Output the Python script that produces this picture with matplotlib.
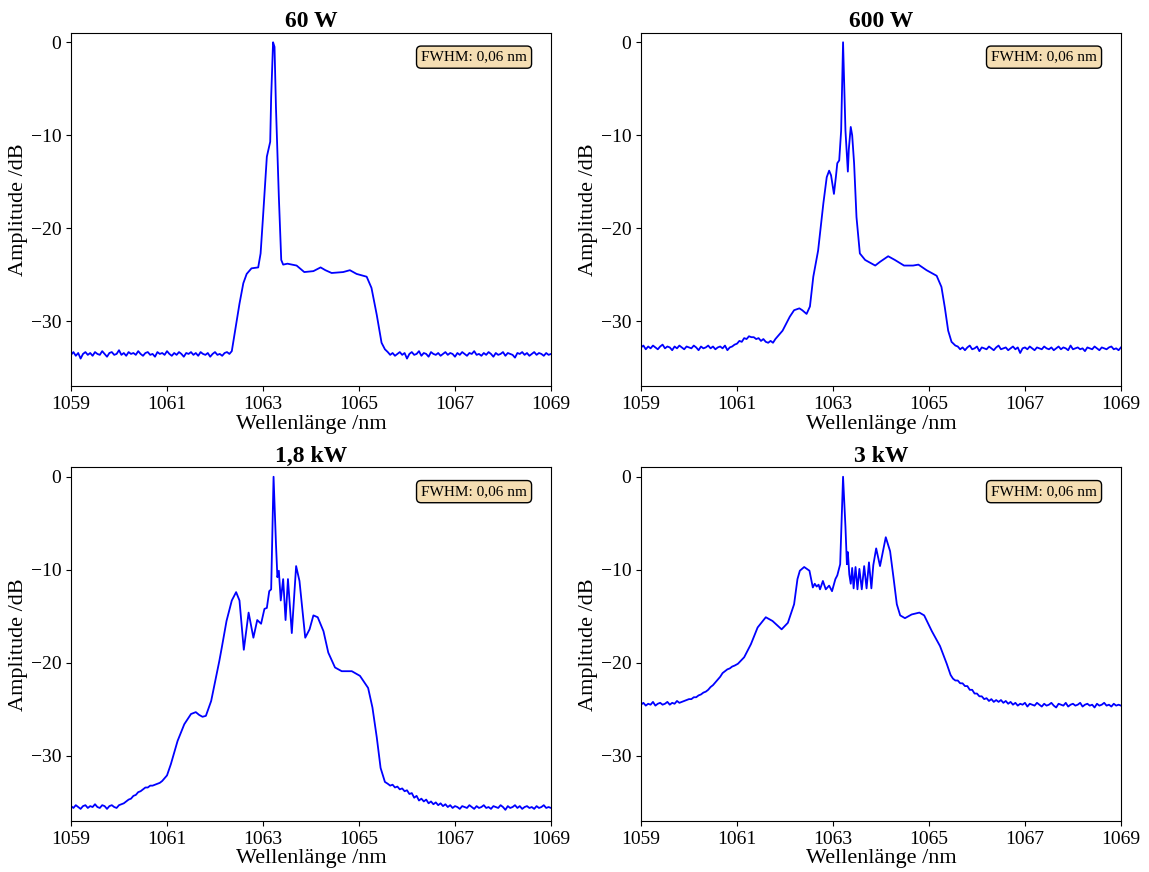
import numpy as np
import matplotlib
matplotlib.use('Agg')
import matplotlib.pyplot as plt

plt.rcParams['font.family'] = ['Liberation Serif', 'DejaVu Serif']

titles = ['60 W', '600 W', '1,8 kW', '3 kW']
fwhm_text = 'FWHM: 0,06 nm'
x_ticks = [1059, 1061, 1063, 1065, 1067, 1069]
y_ticks = [0, -10, -20, -30]

# ---- 60 W ----
floor_60w_l_span = (1059.0, 1062.30)
floor_60w_l = [-33.6, -33.3, -33.7, -33.4, -34.0, -33.5, -33.3, -33.6, -33.4, -33.7,
               -33.3, -33.5, -33.6, -33.2, -33.5, -33.8, -33.4, -33.3, -33.6, -33.5,
               -33.1, -33.6, -33.4, -33.7, -33.3, -33.5, -33.4, -33.6, -33.2, -33.5,
               -33.7, -33.4, -33.3, -33.6, -33.5, -33.8, -33.3, -33.5, -33.4, -33.6,
               -33.2, -33.5, -33.7, -33.4, -33.6, -33.3, -33.5, -33.8, -33.4, -33.5,
               -33.3, -33.6, -33.4, -33.7, -33.3, -33.5, -33.6, -33.4, -33.8, -33.5,
               -33.3, -33.6, -33.5, -33.7, -33.4, -33.3, -33.5]
wl_60w = [1062.35, 1062.42, 1062.51, 1062.59, 1062.66, 1062.76, 1062.90, 1062.95, 1063.00,
          1063.08, 1063.15, 1063.17, 1063.21, 1063.24, 1063.27, 1063.33, 1063.38, 1063.42,
          1063.51, 1063.70, 1063.86, 1064.05, 1064.20, 1064.30, 1064.43, 1064.67, 1064.81,
          1064.95, 1065.16, 1065.26, 1065.37, 1065.47, 1065.54]
db_60w = [-33.2, -31.0, -28.1, -25.9, -24.9, -24.3, -24.2, -22.7, -18.8,
          -12.3, -10.7, -5.9, 0.0, -0.5, -7.0, -16.6, -23.4, -23.9,
          -23.8, -24.0, -24.7, -24.6, -24.2, -24.5, -24.8, -24.7, -24.5,
          -24.9, -25.2, -26.4, -29.3, -32.3, -33.0]
floor_60w_r_span = (1065.60, 1069.0)
floor_60w_r = [-33.3, -33.6, -33.4, -33.7, -33.5, -33.3, -33.6, -33.4, -34.0, -33.5,
               -33.3, -33.6, -33.5, -33.2, -33.7, -33.4, -33.5, -33.8, -33.3, -33.5,
               -33.6, -33.4, -33.7, -33.5, -33.3, -33.6, -33.4, -33.5, -33.8, -33.4,
               -33.6, -33.3, -33.5, -33.7, -33.4, -33.5, -33.2, -33.6, -33.5, -33.7,
               -33.4, -33.6, -33.3, -33.5, -33.8, -33.4, -33.6, -33.5, -33.3, -33.7,
               -33.4, -33.5, -33.6, -33.9, -33.4, -33.5, -33.3, -33.6, -33.4, -33.7,
               -33.5, -33.3, -33.6, -33.4, -33.5, -33.7, -33.4, -33.6, -33.5]

# ---- 600 W ----
floor_600w_l_span = (1059.0, 1061.85)
floor_600w_l = [-32.8, -32.6, -33.0, -32.7, -32.9, -32.6, -32.8, -33.0, -32.7, -32.5,
                -32.9, -32.7, -32.8, -33.1, -32.7, -32.9, -32.6, -32.8, -33.0, -32.7,
                -32.8, -32.9, -32.6, -32.8, -33.1, -32.7, -32.9, -32.8, -32.6, -32.9,
                -32.7, -33.0, -32.8, -32.7, -32.9, -32.6, -33.1, -32.8, -32.7, -32.5,
                -32.4, -32.1, -32.2, -31.8, -31.9, -31.6, -31.7, -31.7, -31.9, -31.8,
                -32.1, -31.9, -32.2, -32.3, -32.1, -32.3, -31.9, -31.6]
wl_600w = [1061.95, 1062.02, 1062.10, 1062.19, 1062.30, 1062.36, 1062.45, 1062.52, 1062.59,
           1062.69, 1062.80, 1062.87, 1062.92, 1062.96, 1063.02, 1063.06, 1063.09, 1063.13,
           1063.17, 1063.21, 1063.26, 1063.31, 1063.33, 1063.37, 1063.40, 1063.44, 1063.49,
           1063.56, 1063.67, 1063.88, 1063.98, 1064.15, 1064.29, 1064.48, 1064.67, 1064.78,
           1064.95, 1065.16, 1065.26, 1065.33, 1065.40, 1065.47, 1065.55]
db_600w = [-31.0, -30.3, -29.5, -28.8, -28.6, -28.8, -29.2, -28.4, -25.2,
           -22.4, -17.3, -14.5, -13.8, -14.3, -16.3, -14.5, -13.0, -12.7,
           -9.5, 0.0, -9.5, -13.9, -11.5, -9.1, -10.0, -13.0, -18.8,
           -22.7, -23.4, -24.0, -23.6, -23.0, -23.4, -24.0, -24.0, -23.9,
           -24.5, -25.1, -26.3, -28.5, -31.0, -32.2, -32.6]
floor_600w_r_span = (1065.60, 1069.0)
floor_600w_r = [-32.7, -33.0, -32.8, -33.1, -32.8, -32.6, -33.0, -32.9, -32.7, -33.2,
                -32.8, -32.9, -33.0, -32.7, -32.9, -33.1, -32.8, -32.6, -33.0, -32.9,
                -32.8, -33.1, -32.9, -32.7, -33.0, -32.8, -33.4, -32.9, -32.8, -33.0,
                -32.7, -32.9, -33.1, -32.8, -32.9, -33.0, -32.7, -32.9, -33.0, -32.8,
                -33.1, -32.9, -32.7, -33.0, -32.8, -32.9, -33.1, -32.6, -33.0, -32.9,
                -32.8, -33.0, -32.9, -33.2, -32.8, -32.9, -33.0, -32.7, -32.9, -33.1,
                -32.8, -32.9, -33.0, -32.8, -32.7, -33.0, -32.9, -33.1, -32.8]

# ---- 1,8 kW ----
floor_1k8_l_span = (1059.0, 1060.95)
floor_1k8_l = [-35.4, -35.6, -35.3, -35.5, -35.7, -35.4, -35.3, -35.6, -35.4, -35.5,
               -35.2, -35.5, -35.6, -35.3, -35.4, -35.7, -35.4, -35.3, -35.5, -35.6,
               -35.3, -35.2, -35.1, -34.9, -34.7, -34.6, -34.3, -34.2, -33.9, -33.8,
               -33.6, -33.4, -33.4, -33.2, -33.2, -33.1, -33.0, -32.9, -32.7, -32.4]
wl_1k8 = [1061.00, 1061.08, 1061.22, 1061.36, 1061.50, 1061.60, 1061.67, 1061.74, 1061.81,
          1061.92, 1062.02, 1062.09, 1062.14, 1062.24, 1062.35, 1062.44, 1062.51, 1062.60,
          1062.70, 1062.80, 1062.88, 1062.96, 1063.03, 1063.08, 1063.13, 1063.17, 1063.22,
          1063.27, 1063.30, 1063.33, 1063.37, 1063.42, 1063.47, 1063.52, 1063.60, 1063.69,
          1063.76, 1063.88, 1063.97, 1064.05, 1064.14, 1064.26, 1064.36, 1064.50, 1064.64,
          1064.85, 1065.02, 1065.19, 1065.28, 1065.37, 1065.45, 1065.54]
db_1k8 = [-32.1, -30.9, -28.4, -26.6, -25.5, -25.3, -25.6, -25.8, -25.7,
          -24.1, -21.6, -19.8, -18.4, -15.5, -13.3, -12.4, -13.3, -18.6,
          -14.6, -17.3, -15.4, -15.8, -14.2, -14.1, -12.3, -12.1, 0.0,
          -7.2, -10.8, -10.1, -13.3, -11.0, -15.4, -11.0, -16.8, -9.6,
          -11.2, -17.3, -16.4, -14.9, -15.1, -16.6, -18.9, -20.5, -20.9,
          -20.9, -21.4, -22.7, -24.8, -28.0, -31.3, -32.8]
floor_1k8_r_span = (1065.60, 1069.0)
floor_1k8_r = [-33.0, -33.2, -33.1, -33.4, -33.3, -33.6, -33.5, -33.8, -33.7, -34.1,
               -34.0, -34.5, -34.3, -34.8, -34.6, -34.9, -34.7, -35.1, -34.9, -35.2,
               -35.0, -35.3, -35.1, -35.4, -35.2, -35.5, -35.3, -35.6, -35.4, -35.5,
               -35.7, -35.4, -35.5, -35.6, -35.3, -35.5, -35.7, -35.4, -35.6, -35.5,
               -35.3, -35.6, -35.5, -35.7, -35.4, -35.5, -35.6, -35.3, -35.5, -35.8,
               -35.4, -35.6, -35.5, -35.3, -35.6, -35.4, -35.7, -35.5, -35.4, -35.6,
               -35.5, -35.7, -35.4, -35.6, -35.5, -35.3, -35.6, -35.5, -35.6]

# ---- 3 kW ----
floor_3k_l_span = (1059.0, 1060.95)
floor_3k_l = [-24.5, -24.3, -24.6, -24.4, -24.5, -24.2, -24.6, -24.4, -24.3, -24.5,
              -24.4, -24.2, -24.5, -24.3, -24.4, -24.1, -24.3, -24.2, -24.1, -24.0,
              -23.9, -23.9, -23.7, -23.7, -23.5, -23.4, -23.2, -23.1, -22.9, -22.6,
              -22.4, -22.1, -21.8, -21.5, -21.1, -20.9, -20.7, -20.6, -20.4, -20.3]
wl_3k = [1061.02, 1061.15, 1061.29, 1061.43, 1061.60, 1061.74, 1061.93, 1062.06, 1062.19,
         1062.26, 1062.31, 1062.40, 1062.51, 1062.58, 1062.62, 1062.66, 1062.70, 1062.73,
         1062.79, 1062.85, 1062.92, 1062.98, 1063.05, 1063.09, 1063.15, 1063.21, 1063.26,
         1063.29, 1063.31, 1063.34, 1063.37, 1063.40, 1063.43, 1063.47, 1063.51, 1063.55,
         1063.60, 1063.65, 1063.70, 1063.75, 1063.80, 1063.84, 1063.90, 1063.98, 1064.10,
         1064.19, 1064.26, 1064.33, 1064.40, 1064.50, 1064.64, 1064.80, 1064.90, 1065.06,
         1065.23, 1065.37, 1065.45]
db_3k = [-20.1, -19.4, -18.0, -16.2, -15.1, -15.5, -16.4, -15.7, -13.7,
         -11.0, -10.1, -9.7, -10.1, -11.9, -11.5, -11.8, -11.6, -12.1,
         -11.2, -12.1, -11.7, -12.3, -11.0, -10.6, -9.4, 0.0, -5.4,
         -9.4, -8.1, -10.5, -11.5, -9.8, -12.0, -9.7, -12.1, -9.9,
         -12.1, -9.6, -12.0, -9.2, -12.0, -9.5, -7.7, -9.6, -6.5,
         -8.0, -10.8, -13.7, -14.9, -15.2, -14.8, -14.6, -14.9, -16.6,
         -18.2, -20.1, -21.3]
floor_3k_r_span = (1065.50, 1069.0)
floor_3k_r = [-21.7, -21.9, -21.9, -22.2, -22.2, -22.5, -22.5, -22.9, -22.9, -23.3,
              -23.3, -23.6, -23.6, -23.9, -23.8, -24.1, -23.9, -24.2, -24.0, -24.2,
              -24.0, -24.3, -24.1, -24.4, -24.2, -24.5, -24.3, -24.6, -24.4, -24.5,
              -24.3, -24.7, -24.4, -24.5, -24.6, -24.3, -24.5, -24.7, -24.4, -24.6,
              -24.5, -24.3, -24.6, -24.8, -24.4, -24.5, -24.6, -24.3, -24.7, -24.5,
              -24.4, -24.6, -24.5, -24.3, -24.7, -24.5, -24.4, -24.6, -24.5, -24.8,
              -24.4, -24.6, -24.5, -24.3, -24.6, -24.5, -24.7, -24.4, -24.6, -24.5, -24.6]


def build(floor_l, span_l, wl, db, floor_r, span_r):
    # noisy floor segments are sampled on the analyser grid between the span ends
    x = np.concatenate([np.linspace(span_l[0], span_l[1], len(floor_l)), wl,
                        np.linspace(span_r[0], span_r[1], len(floor_r))])
    y = np.concatenate([floor_l, db, floor_r])
    return x, y


spectra = [
    build(floor_60w_l, floor_60w_l_span, wl_60w, db_60w, floor_60w_r, floor_60w_r_span),
    build(floor_600w_l, floor_600w_l_span, wl_600w, db_600w, floor_600w_r, floor_600w_r_span),
    build(floor_1k8_l, floor_1k8_l_span, wl_1k8, db_1k8, floor_1k8_r, floor_1k8_r_span),
    build(floor_3k_l, floor_3k_l_span, wl_3k, db_3k, floor_3k_r, floor_3k_r_span),
]

fig, axs = plt.subplots(2, 2, figsize=(11.49, 8.72), dpi=100)
plt.subplots_adjust(left=0.0618, right=0.9756, top=0.9622, bottom=0.0585,
                    wspace=0.1875, hspace=0.229)

for ax, (x, y), title in zip(axs.flat, spectra, titles):
    ax.plot(x, y, color='blue', lw=1.3)
    ax.set_xlim(1059, 1069)
    ax.set_ylim(-37, 1)
    ax.set_xticks(x_ticks)
    ax.set_yticks(y_ticks)
    ax.tick_params(labelsize=14)
    ax.set_title(title, fontsize=17, fontweight='bold', pad=4)
    ax.set_xlabel('Wellenlänge /nm', fontsize=16, labelpad=1)
    ax.set_ylabel('Amplitude /dB', fontsize=16, labelpad=2)
    ax.text(0.95, 0.95, fwhm_text, transform=ax.transAxes, ha='right', va='top',
            fontsize=11, bbox=dict(boxstyle='round', facecolor='wheat', edgecolor='black'))

plt.savefig('out.png', dpi=100)
